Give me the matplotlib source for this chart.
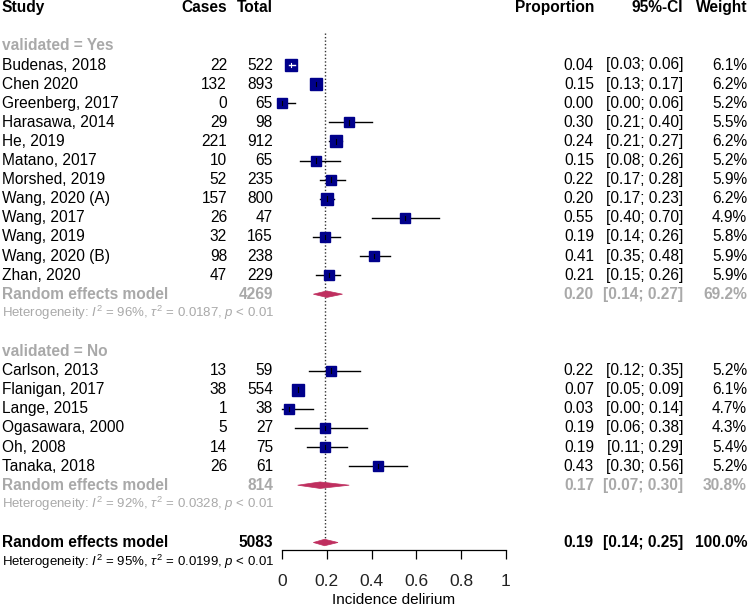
import numpy as np
import matplotlib.pyplot as plt
import matplotlib.transforms as mtransforms
from matplotlib.patches import Polygon

plt.rcParams["font.family"] = ["Liberation Sans", "DejaVu Sans"]
plt.rcParams["mathtext.fontset"] = "custom"
plt.rcParams["mathtext.rm"] = "Liberation Sans"
plt.rcParams["mathtext.it"] = "Liberation Sans:italic"

# ---- data ----
yes_studies = ["Budenas, 2018", "Chen 2020", "Greenberg, 2017", "Harasawa, 2014", "He, 2019",
               "Matano, 2017", "Morshed, 2019", "Wang, 2020 (A)", "Wang, 2017", "Wang, 2019",
               "Wang, 2020 (B)", "Zhan, 2020"]
yes_cases = [22, 132, 0, 29, 221, 10, 52, 157, 26, 32, 98, 47]
yes_total = [522, 893, 65, 98, 912, 65, 235, 800, 47, 165, 238, 229]
yes_prop = [0.04, 0.15, 0.00, 0.30, 0.24, 0.15, 0.22, 0.20, 0.55, 0.19, 0.41, 0.21]
yes_lo = [0.03, 0.13, 0.00, 0.21, 0.21, 0.08, 0.17, 0.17, 0.40, 0.14, 0.35, 0.15]
yes_hi = [0.06, 0.17, 0.06, 0.40, 0.27, 0.26, 0.28, 0.23, 0.70, 0.26, 0.48, 0.26]
yes_weight = [6.1, 6.2, 5.2, 5.5, 6.2, 5.2, 5.9, 6.2, 4.9, 5.8, 5.9, 5.9]

no_studies = ["Carlson, 2013", "Flanigan, 2017", "Lange, 2015", "Ogasawara, 2000", "Oh, 2008",
              "Tanaka, 2018"]
no_cases = [13, 38, 1, 5, 14, 26]
no_total = [59, 554, 38, 27, 75, 61]
no_prop = [0.22, 0.07, 0.03, 0.19, 0.19, 0.43]
no_lo = [0.12, 0.05, 0.00, 0.06, 0.11, 0.30]
no_hi = [0.35, 0.09, 0.14, 0.38, 0.29, 0.56]
no_weight = [5.2, 6.1, 4.7, 4.3, 5.4, 5.2]

# pooled estimates: total, prop, lo, hi, weight, I2, tau2
yes_pooled = [4269, 0.20, 0.14, 0.27, 69.2, 96, 0.0187]
no_pooled = [814, 0.17, 0.07, 0.30, 30.8, 92, 0.0328]
all_pooled = [5083, 0.19, 0.14, 0.25, 100.0, 95, 0.0199]

xticks = [0, 0.2, 0.4, 0.6, 0.8, 1]
xticklabels = ["0", "0.2", "0.4", "0.6", "0.8", "1"]

# ---- layout ----
W, H = 749, 606
fig = plt.figure(figsize=(W / 100, H / 100), dpi=100)
ax = fig.add_axes([282 / W, 1 - 550 / H, 224 / W, 550 / H])
ax.set_xlim(0, 1)
row_h, row0 = 19.1, 7.7
ax.set_ylim((550 - row0) / row_h, -row0 / row_h)
for s in ["top", "left", "right"]:
    ax.spines[s].set_visible(False)
ax.set_yticks([])
ax.set_xticks(xticks)
ax.set_xticklabels(xticklabels, fontsize=12.5, color="#222222")
ax.tick_params(axis="x", length=6.5, width=0.9, pad=10.5)
ax.spines["bottom"].set_linewidth(0.9)
ax.set_xlabel("Incidence delirium", fontsize=11, labelpad=3)

tr = mtransforms.blended_transform_factory(fig.transFigure, ax.transData)
FS = 11.2
GRAY = "#a9a9a9"
NAVY = "#00008b"
DIAM = "#bf2f5f"
BOX_K = 4.5  # box side in px per sqrt(weight)

# column anchors (figure fraction)
c_study = 2 / W
c_cases = 227 / W
c_total = 273 / W
c_prop = 594 / W
c_ci = 683 / W
c_wt = 747 / W


def txt(x, y, s, ha="left", **kw):
    kw.setdefault("fontsize", FS)
    ax.text(x, y, s, ha=ha, va="center", transform=tr, clip_on=False, **kw)


# header
txt(c_study, 0, "Study", fontweight="bold")
txt(c_cases, 0, "Cases", ha="right", fontweight="bold")
txt(c_total, 0, "Total", ha="right", fontweight="bold")
txt(c_prop, 0, "Proportion", ha="right", fontweight="bold")
txt(c_ci, 0, "95%-CI", ha="right", fontweight="bold")
txt(c_wt, 0, "Weight", ha="right", fontweight="bold")


def study_rows(start, names, cases, total, prop, lo, hi, weight):
    for i, name in enumerate(names):
        r = start + i
        txt(c_study, r, name)
        txt(c_cases, r, str(cases[i]), ha="right")
        txt(c_total, r, str(total[i]), ha="right")
        txt(c_prop, r, f"{prop[i]:.2f}", ha="right")
        txt(c_ci, r, f"[{lo[i]:.2f}; {hi[i]:.2f}]", ha="right")
        txt(c_wt, r, f"{weight[i]:.1f}%", ha="right")
        side_px = BOX_K * np.sqrt(weight[i])
        ax.plot([prop[i]], [r], marker="s", ms=side_px * 0.72, color=NAVY, mec=NAVY,
                clip_on=False, zorder=3)
        # CI line drawn white when it sits well inside the box
        inside = (hi[i] - lo[i]) * 224 < side_px - 4
        col = "white" if inside else "black"
        ax.plot([lo[i], hi[i]], [r, r], color=col, lw=1, clip_on=False,
                zorder=4 if inside else 2)
        ax.plot([prop[i], prop[i]], [r - 0.12, r + 0.12], color=col, lw=0.8,
                clip_on=False, zorder=4)


def pooled_row(r, label, pooled, color, het_fs):
    total, p, lo, hi, wt, i2, tau2 = pooled
    txt(c_study, r, label, fontweight="bold", color=color)
    txt(c_total, r, str(total), ha="right", fontweight="bold", color=color)
    txt(c_prop, r, f"{p:.2f}", ha="right", fontweight="bold", color=color)
    txt(c_ci, r, f"[{lo:.2f}; {hi:.2f}]", ha="right", fontweight="bold", color=color)
    txt(c_wt, r, f"{wt:.1f}%", ha="right", fontweight="bold", color=color)
    h = 0.17
    ax.add_patch(Polygon([[lo, r], [p, r - h], [hi, r], [p, r + h]], closed=True,
                         facecolor=DIAM, edgecolor=DIAM, lw=0.5, clip_on=False, zorder=3))
    het = (r"Heterogeneity: $\mathit{I}^2$ = " + f"{i2}%, " + r"$\tau^2$ = "
           + f"{tau2:.4f}, " + r"$\mathit{p}$ < 0.01")
    txt(c_study, r + 1, het, fontsize=het_fs, color=color)


# subgroup: validated = Yes
txt(c_study, 2, "validated = Yes", fontweight="bold", color=GRAY)
study_rows(3, yes_studies, yes_cases, yes_total, yes_prop, yes_lo, yes_hi, yes_weight)
pooled_row(15, "Random effects model", yes_pooled, GRAY, 9.5)

# subgroup: validated = No
txt(c_study, 18, "validated = No", fontweight="bold", color=GRAY)
study_rows(19, no_studies, no_cases, no_total, no_prop, no_lo, no_hi, no_weight)
pooled_row(25, "Random effects model", no_pooled, GRAY, 9.5)

# overall
pooled_row(28, "Random effects model", all_pooled, "black", 9.5)

# reference line at overall estimate
ax.plot([all_pooled[1], all_pooled[1]], [1.3, 28 - 0.17], color="#333333", lw=1,
        linestyle=(0, (1, 1.5)), zorder=1, clip_on=False)

fig.savefig("out.png", dpi=100)
